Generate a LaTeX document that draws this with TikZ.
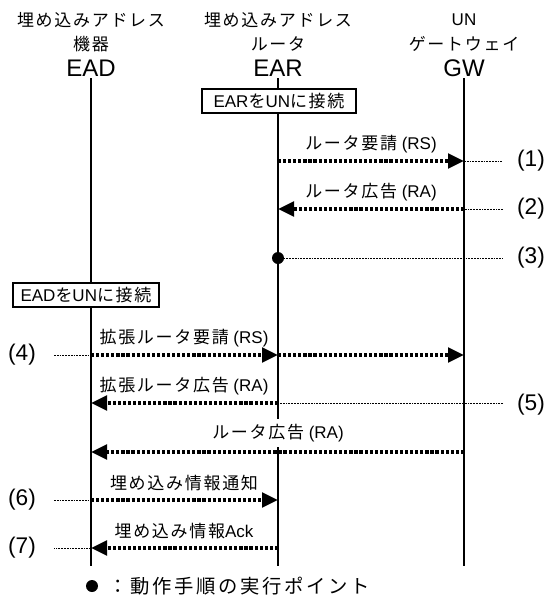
\documentclass[tikz,border=0pt]{standalone}
\usepackage{fontspec}
\setmainfont{Liberation Sans}
\newfontfamily\jp[LetterSpace=10]{Noto Sans CJK JP}
\newfontfamily\jpleg[LetterSpace=14]{Noto Sans CJK JP}
\newcommand\J[1]{{\jp #1}}
\usetikzlibrary{arrows.meta}
\begin{document}
\begin{tikzpicture}[x=0.75pt,y=-0.75pt,
  txt/.style={font=\fontsize{12.75}{15}\selectfont, inner sep=0pt},
  big/.style={font=\fontsize{18}{20}\selectfont, inner sep=0pt},
  num/.style={font=\fontsize{17}{19}\selectfont, inner sep=0pt},
  lifeline/.style={line width=1pt},
  msg/.style={line width=2.6pt, dash pattern=on 2.4pt off 1.4pt, -{Triangle[length=12pt,width=11pt]}},
  thin/.style={line width=0.75pt, dash pattern=on 1.4pt off 0.7pt},
  boxed/.style={draw, line width=1pt, fill=white, minimum width=#1, minimum height=18pt, inner sep=0pt, font=\fontsize{12.75}{15}\selectfont},
  point/.style={circle, fill=black, minimum size=9pt, inner sep=0pt}]
\useasboundingbox (0,0) rectangle (550,597);
% headers
\node[txt] (h1a) at (91,20) {\J{埋め込みアドレス}};
\node[txt] (h1b) at (91,44) {\J{機器}};
\node[big] (h1c) at (91,68) {EAD};
\node[txt] (h2a) at (278,20) {\J{埋め込みアドレス}};
\node[txt] (h2b) at (278,44) {\J{ルータ}};
\node[big] (h2c) at (278,68) {EAR};
\node[txt] (h3a) at (464,20) {UN};
\node[txt] (h3b) at (464,44) {\J{ゲートウェイ}};
\node[big] (h3c) at (464,68) {GW};
% lifeline ends
\coordinate (eadtop) at (91,78);
\coordinate (eadbot) at (91,566);
\coordinate (eartop) at (278,78);
\coordinate (earbot) at (278,566);
\coordinate (gwtop) at (464,78);
\coordinate (gwbot) at (464,566);
\draw[lifeline] (eadtop) -- (eadbot);
\draw[lifeline] (eartop) -- (earbot);
\draw[lifeline] (gwtop) -- (gwbot);
% boxes
\node[boxed=115.5pt] (earbox) at (279,101) {EAR\J{を}UN\J{に接続}};
\node[boxed=109.5pt] (eadbox) at (86,295) {EAD\J{を}UN\J{に接続}};
% message coordinates
\foreach \n/\y in {1/161,2/209,3/258,4/355,5/403,r/452,6/500,7/548}{
  \coordinate (s\n) at (54,\y);
  \coordinate (d\n) at (91,\y);
  \coordinate (r\n) at (278,\y);
  \coordinate (g\n) at (464,\y);
  \coordinate (e\n) at (503,\y);
}
% (1)
\draw[msg] (r1) -- (g1);
\draw[thin] (g1) -- (e1);
\node[txt] (l1) at (371,144) {\J{ルータ要請} (RS)};
\node[num] (n1) at (531,161) {(1)};
% (2)
\draw[thin] (e2) -- (g2);
\draw[msg] (g2) -- (r2);
\node[txt] (l2) at (371,192) {\J{ルータ広告} (RA)};
\node[num] (n2) at (531,209) {(2)};
% (3)
\draw[thin] (r3) -- (e3);
\node[point] (p3) at (r3) {};
\node[num] (n3) at (531,258) {(3)};
% (4)
\draw[thin] (s4) -- (d4);
\draw[msg] (d4) -- (r4);
\draw[msg] (r4) -- (g4);
\node[txt] (l4) at (184,338) {\J{拡張ルータ要請} (RS)};
\node[num] (n4) at (22,355) {(4)};
% (5)
\draw[thin] (e5) -- (r5);
\draw[msg] (r5) -- (d5);
\node[txt] (l5) at (184,386) {\J{拡張ルータ広告} (RA)};
\node[num] (n5) at (531,405) {(5)};
% RA
\draw[msg] (gr) -- (dr);
\node[txt, fill=white, inner xsep=1pt, inner ysep=4pt] (lr) at (278,433) {\J{ルータ広告} (RA)};
% (6)
\draw[thin] (s6) -- (d6);
\draw[msg] (d6) -- (r6);
\node[txt] (l6) at (184,483) {\J{埋め込み情報通知}};
\node[num] (n6) at (22,500) {(6)};
% (7)
\draw[msg] (r7) -- (d7);
\draw[thin] (d7) -- (s7);
\node[txt] (l7) at (184,531) {\J{埋め込み情報}Ack};
\node[num] (n7) at (22,548) {(7)};
% legend
\node[point] (legdot) at (92,586) {};
\node[anchor=west, inner sep=0pt, font=\fontsize{14.5}{17}\selectfont] (legtxt) at (108,586) {{\jpleg ：動作手順の実行ポイント}};
\end{tikzpicture}
\end{document}
